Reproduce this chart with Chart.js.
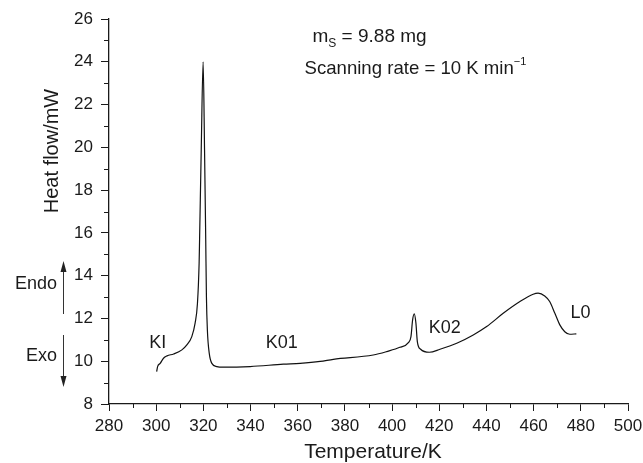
<!DOCTYPE html>
<html>
<head>
<meta charset="utf-8">
<script src="https://cdn.jsdelivr.net/npm/chart.js@4"></script>
<style>
  html, body { margin: 0; padding: 0; background: #fff; }
  #wrap { width: 643px; height: 463px; }
</style>
</head>
<body>
<div id="wrap"><canvas id="dsc"></canvas></div>
<script>
// DSC trace: temperature (K) and heat flow (mW)
const temps = [
  300.2, 300.6, 301.7, 303.1, 304.6, 307.4, 310.9, 313.0, 315.1, 316.5,
  317.5, 318.2, 318.4, 319.1, 319.9, 320.5, 321.0, 321.3, 321.7, 322.5,
  323.6, 325.7, 328.5, 339.8, 353.9, 361.0, 369.5, 375.1, 392.0, 397.7,
  403.3, 406.9, 408.0, 408.7, 409.4, 410.1, 410.7, 412.1, 415.8, 420.3,
  427.4, 434.4, 440.1, 447.1, 454.2, 459.8, 461.9, 464.7, 466.8, 469.0,
  471.1, 473.2, 475.3, 478.1
];
const heatFlow = [
  9.51, 9.75, 9.90, 10.14, 10.25, 10.34, 10.53, 10.76, 11.15, 11.78,
  12.71, 14.58, 15.70, 19.90, 24.00, 19.90, 15.70, 13.00, 11.46, 10.37,
  9.90, 9.75, 9.72, 9.75, 9.86, 9.90, 9.99, 10.09, 10.29, 10.45,
  10.65, 10.87, 11.15, 11.93, 12.21, 11.78, 10.92, 10.56, 10.42, 10.56,
  10.84, 11.23, 11.62, 12.24, 12.79, 13.13, 13.18, 13.05, 12.79, 12.24,
  11.70, 11.38, 11.26, 11.28
];

// axis ticks
const xTicks = [280, 300, 320, 340, 360, 380, 400, 420, 440, 460, 480, 500];
const yTicks = [8, 10, 12, 14, 16, 18, 20, 22, 24, 26];

// phase labels on the curve (data coordinates)
const phaseNames = ["KI", "K01", "K02", "L0"];
const phaseX = [300.7, 353.2, 422.3, 479.9];
const phaseY = [10.84, 10.84, 11.54, 12.24];

const FONT = "'Liberation Sans', Arial, Helvetica, sans-serif";
const INK = "#1a1a1a";

const points = temps.map((t, i) => ({ x: t, y: heatFlow[i] }));

// extra drawing: minor ticks, titles, notes, endo/exo arrows
const extras = {
  id: "extras",
  afterDraw(chart) {
    const ctx = chart.ctx;
    const xs = chart.scales.x, ys = chart.scales.y;
    const area = chart.chartArea;
    ctx.save();

    // minor ticks
    ctx.strokeStyle = INK;
    ctx.lineWidth = 1;
    ctx.beginPath();
    for (let i = 0; i < xTicks.length - 1; i++) {
      const px = Math.round(xs.getPixelForValue((xTicks[i] + xTicks[i + 1]) / 2)) + 0.5;
      ctx.moveTo(px, area.bottom);
      ctx.lineTo(px, area.bottom + 4);
    }
    for (let i = 0; i < yTicks.length - 1; i++) {
      const py = Math.round(ys.getPixelForValue((yTicks[i] + yTicks[i + 1]) / 2)) + 0.5;
      ctx.moveTo(area.left, py);
      ctx.lineTo(area.left - 5, py);
    }
    ctx.stroke();

    ctx.fillStyle = INK;

    // axis titles
    ctx.font = "21px " + FONT;
    ctx.textAlign = "center";
    ctx.textBaseline = "middle";
    ctx.fillText("Temperature/K", 373, 452);
    ctx.font = "20px " + FONT;
    ctx.save();
    ctx.translate(52, 151);
    ctx.rotate(-Math.PI / 2);
    ctx.fillText("Heat flow/mW", 0, 0);
    ctx.restore();

    // phase labels
    ctx.font = "18px " + FONT;
    phaseNames.forEach((n, i) => {
      ctx.fillText(n, xs.getPixelForValue(phaseX[i]), ys.getPixelForValue(phaseY[i]));
    });

    // endo / exo
    ctx.textAlign = "right";
    ctx.fillText("Endo", 57, 284);
    ctx.fillText("Exo", 57, 356);
    ctx.strokeStyle = "#333";
    ctx.lineWidth = 1;
    ctx.beginPath();
    ctx.moveTo(63.5, 314); ctx.lineTo(63.5, 268);
    ctx.moveTo(63.5, 335); ctx.lineTo(63.5, 380);
    ctx.stroke();
    ctx.fillStyle = "#222";
    ctx.beginPath();
    ctx.moveTo(63.5, 261); ctx.lineTo(60.5, 272); ctx.lineTo(66.5, 272); ctx.closePath();
    ctx.moveTo(63.5, 387); ctx.lineTo(60.5, 376); ctx.lineTo(66.5, 376); ctx.closePath();
    ctx.fill();

    // sample notes
    ctx.fillStyle = INK;
    ctx.textAlign = "left";
    ctx.textBaseline = "alphabetic";
    ctx.font = "19px " + FONT;
    let x0 = 312.5;
    ctx.fillText("m", x0, 42);
    x0 += ctx.measureText("m").width;
    ctx.font = "12px " + FONT;
    ctx.fillText("S", x0, 47);
    x0 += ctx.measureText("S").width;
    ctx.font = "19px " + FONT;
    ctx.fillText(" = 9.88 mg", x0, 42);

    ctx.font = "18.6px " + FONT;
    const line2 = "Scanning rate = 10 K min";
    ctx.fillText(line2, 304.5, 74);
    const w2 = ctx.measureText(line2).width;
    ctx.font = "11px " + FONT;
    ctx.fillText("\u22121", 304.5 + w2, 65);

    ctx.restore();
  }
};

new Chart(document.getElementById("dsc"), {
  type: "line",
  data: {
    datasets: [{
      data: points,
      borderColor: "#111",
      borderWidth: 1.2,
      pointRadius: 0,
      fill: false,
      cubicInterpolationMode: "monotone"
    }]
  },
  options: {
    responsive: true,
    maintainAspectRatio: false,
    animation: false,
    layout: { padding: { top: 19, right: 15, left: 0, bottom: 0 } },
    plugins: { legend: { display: false }, tooltip: { enabled: false } },
    scales: {
      x: {
        type: "linear",
        min: 280, max: 500,
        afterBuildTicks: (s) => { s.ticks = xTicks.map(v => ({ value: v })); },
        afterFit: (s) => { s.height = 59; s.paddingRight = 5; s.paddingLeft = 0; },
        border: { color: INK, width: 1.3 },
        grid: { drawOnChartArea: false, drawTicks: true, tickLength: 7, color: INK },
        ticks: { color: INK, padding: 5, font: { family: FONT, size: 17 }, maxRotation: 0 }
      },
      y: {
        min: 8, max: 26,
        afterBuildTicks: (s) => { s.ticks = yTicks.map(v => ({ value: v })); },
        afterFit: (s) => { s.width = 109; },
        border: { color: INK, width: 1.3 },
        grid: { drawOnChartArea: false, drawTicks: true, tickLength: 8, color: INK },
        ticks: { color: INK, padding: 8, font: { family: FONT, size: 17 } }
      }
    }
  },
  plugins: [extras]
});
</script>
</body>
</html>
